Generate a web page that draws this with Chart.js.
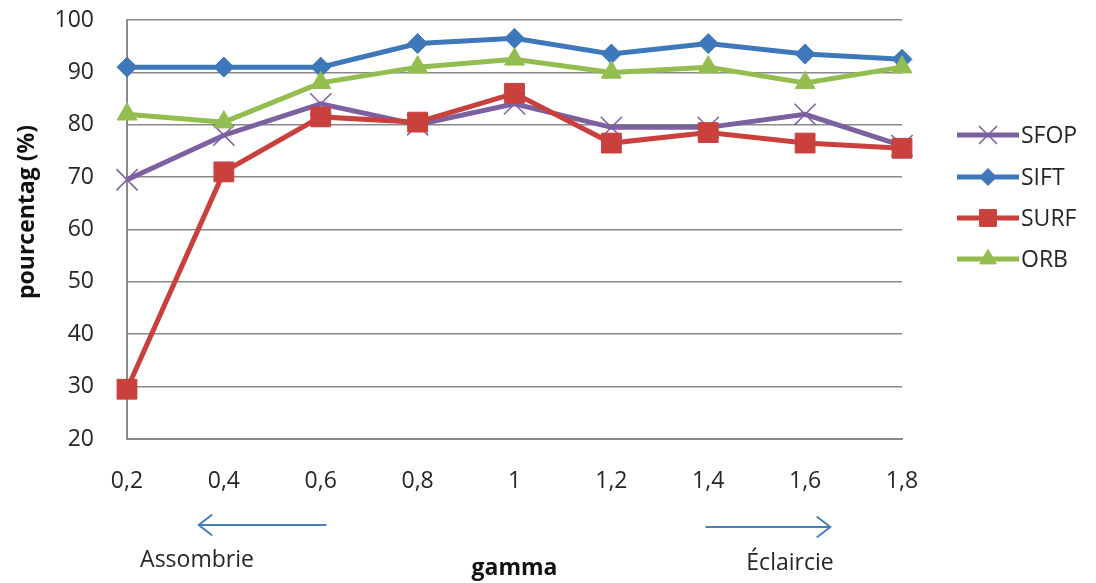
<!DOCTYPE html>
<html lang="fr">
<head>
<meta charset="utf-8">
<title>pourcentag (%) selon gamma</title>
<script src="https://cdn.jsdelivr.net/npm/chart.js@4.4.1/dist/chart.umd.min.js"></script>
<style>
  html, body { margin: 0; padding: 0; background: #ffffff; }
  #wrap { width: 1096px; height: 583px; }
</style>
</head>
<body>
<div id="wrap"><canvas id="chart" width="1096" height="583"></canvas></div>
<script>
// Valeurs de gamma (axe horizontal)
const gammaLabels = ['0,2', '0,4', '0,6', '0,8', '1', '1,2', '1,4', '1,6', '1,8'];

// Pourcentages par détecteur
const sfopValues = [69.5, 78, 84, 80, 84, 79.5, 79.5, 82, 76];
const siftValues = [91, 91, 91, 95.5, 96.5, 93.5, 95.5, 93.5, 92.5];
const surfValues = [29.5, 71, 81.5, 80.5, 86, 76.5, 78.5, 76.5, 75.5];
const orbValues  = [82, 80.5, 88, 91, 92.5, 90, 91, 88, 91];

// Graduations de l'axe vertical
const yTickMin = 20;
const yTickMax = 100;
const yTickStep = 10;

const FONT = '"Open Sans", "DejaVu Sans", sans-serif';
const SIZE = 23;
const TEXT = '#262626';
const GRID = '#8a8a8a';

function series(label, data, color, style, radius, order, borderW) {
  return {
    label, data, order,
    borderColor: color,
    backgroundColor: color,
    borderWidth: 5,
    pointStyle: style,
    pointRadius: radius,
    pointHoverRadius: radius,
    pointBorderWidth: borderW,
    pointBorderColor: color,
    pointBackgroundColor: color,
    tension: 0,
    fill: false
  };
}

const datasets = [
  series('SFOP', sfopValues, '#7d60a0', 'crossRot', 15, 3, 1.5),
  series('SIFT', siftValues, '#3f78ba', 'rectRot', 10, 2, 1),
  series('SURF', surfValues, '#c9403d', 'rect', 14, 1, 1),
  series('ORB',  orbValues,  '#93bd4e', 'triangle', 11.5, 0, 1)
];

function arrow(ctx, x1, y, x2, color) {
  const dir = Math.sign(x2 - x1);
  ctx.save();
  ctx.strokeStyle = color;
  ctx.lineWidth = 2;
  ctx.lineCap = 'round';
  ctx.beginPath();
  ctx.moveTo(x1, y);
  ctx.lineTo(x2, y);
  ctx.moveTo(x2 - dir * 13, y - 10);
  ctx.lineTo(x2, y);
  ctx.lineTo(x2 - dir * 13, y + 10);
  ctx.stroke();
  ctx.restore();
}

// Légende, titre vertical, flèches et libellés sous l'axe
const decorations = {
  id: 'decorations',
  afterDraw(chart) {
    const ctx = chart.ctx;
    const xs = chart.scales.x;
    ctx.save();

    // titre de l'axe vertical
    ctx.save();
    ctx.translate(27, 212);
    ctx.rotate(-Math.PI / 2);
    ctx.font = 'bold ' + SIZE + 'px ' + FONT;
    ctx.fillStyle = '#111111';
    ctx.textAlign = 'center';
    ctx.textBaseline = 'middle';
    ctx.fillText('pourcentag (%)', 0, 0);
    ctx.restore();

    // flèches et annotations
    const blue = '#4a7ebb';
    arrow(ctx, xs.getPixelForValue(2) + 5, 525, xs.getPixelForValue(0.74), blue);
    arrow(ctx, xs.getPixelForValue(5.98), 527, xs.getPixelForValue(7.26), blue);

    ctx.fillStyle = TEXT;
    ctx.textAlign = 'center';
    ctx.textBaseline = 'middle';
    ctx.font = SIZE + 'px ' + FONT;
    ctx.fillText('Assombrie', 197, 560);
    ctx.fillText('Éclaircie', 790, 563);
    ctx.font = 'bold ' + SIZE + 'px ' + FONT;
    ctx.fillStyle = '#111111';
    ctx.fillText('gamma', (chart.chartArea.left + chart.chartArea.right) / 2, 568);

    // légende
    const rows = [135, 177, 218, 259];
    chart.data.datasets.forEach((ds, i) => {
      const y = rows[i];
      ctx.strokeStyle = ds.borderColor;
      ctx.lineWidth = 5;
      ctx.lineCap = 'butt';
      ctx.beginPath();
      ctx.moveTo(957, y);
      ctx.lineTo(1019, y);
      ctx.stroke();
      ctx.fillStyle = ds.pointBackgroundColor;
      ctx.strokeStyle = ds.pointBorderColor;
      ctx.lineWidth = ds.pointBorderWidth;
      Chart.helpers.drawPoint(ctx, {
        pointStyle: ds.pointStyle,
        radius: ds.pointRadius * 0.85,
        rotation: 0,
        borderWidth: ds.pointBorderWidth
      }, 988, y);
      ctx.fillStyle = TEXT;
      ctx.textAlign = 'left';
      ctx.textBaseline = 'middle';
      ctx.font = SIZE + 'px ' + FONT;
      ctx.fillText(ds.label, 1021, y + 1);
    });
    ctx.restore();
  }
};

new Chart(document.getElementById('chart'), {
  type: 'line',
  data: { labels: gammaLabels, datasets },
  options: {
    responsive: false,
    animation: false,
    devicePixelRatio: 1,
    layout: { padding: { top: 20, right: 194, left: 0, bottom: 0 } },
    plugins: {
      legend: { display: false },
      tooltip: { enabled: false },
      title: { display: false }
    },
    scales: {
      x: {
        offset: false,
        grid: { display: false, drawTicks: false },
        border: { display: true, color: GRID, width: 2 },
        ticks: {
          color: TEXT,
          font: { family: FONT, size: SIZE },
          padding: 29,
          maxRotation: 0,
          autoSkip: false
        },
        afterFit(scale) { scale.height = 144; }
      },
      y: {
        min: yTickMin,
        max: yTickMax,
        grid: {
          color: GRID,
          lineWidth: 1.6,
          drawTicks: true,
          tickLength: 33,
          tickColor: 'rgba(0,0,0,0)'
        },
        border: { display: true, color: GRID, width: 2 },
        ticks: {
          stepSize: yTickStep,
          color: TEXT,
          font: { family: FONT, size: SIZE },
          padding: 0
        },
        afterFit(scale) { scale.width = 127; }
      }
    }
  },
  plugins: [decorations]
});
</script>
</body>
</html>
